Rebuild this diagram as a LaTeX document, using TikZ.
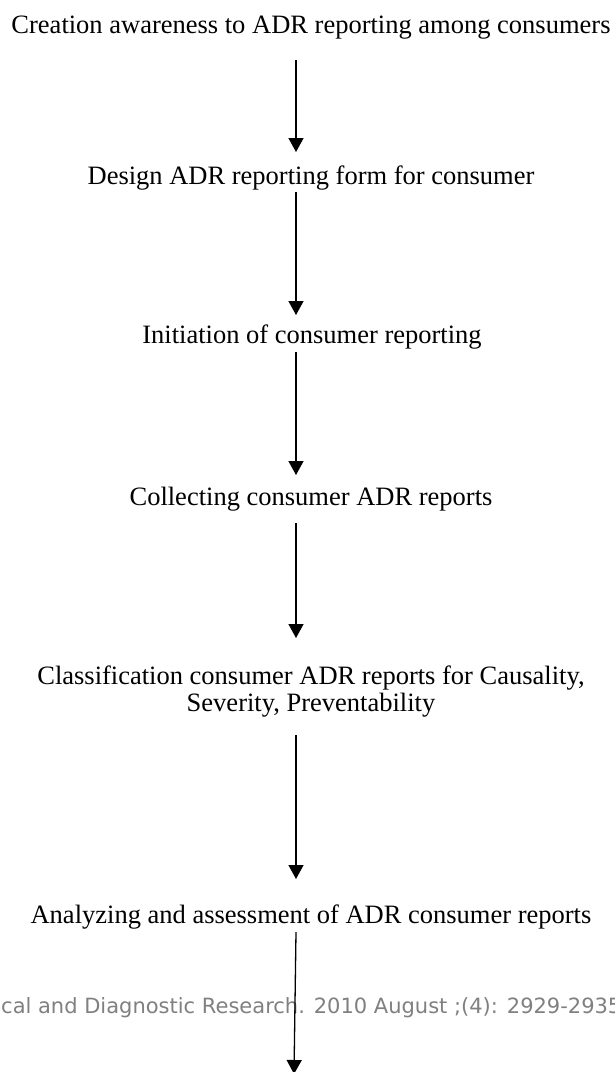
\documentclass[tikz,border=0pt]{standalone}
\usepackage{fontspec}
\setmainfont{Liberation Serif}
\newfontfamily\markfont{DejaVu Sans}
\usetikzlibrary{arrows.meta,calc}

\tikzset{
  stage/.style={anchor=base, inner sep=0pt, align=center,
    font=\fontsize{26.5}{27}\selectfont},
  flow/.style={line width=1.3pt, -{Triangle[length=14pt,width=15pt]}},
}

\begin{document}
\begin{tikzpicture}[x=1pt, y=-1pt]
    \useasboundingbox[fill=white] (0,0) rectangle (615,1072);

    % Stages (two-line node sits on its last line)
    \node[stage] (t1) at (311,33) {Creation awareness to ADR reporting among consumers};
    \node[stage] (t2) at (311,184) {Design ADR reporting form for consumer};
    \node[stage] (t3) at (312,343) {Initiation of consumer reporting};
    \node[stage] (t4) at (311,505) {Collecting consumer ADR reports};
    \node[stage] (t5) at (311,711) {Classification consumer ADR reports for Causality,\\ Severity, Preventability};
    \node[stage] (t6) at (311,923) {Analyzing and assessment of ADR consumer reports};

    % Watermark line, cut at both sides
    \node[anchor=base west, inner sep=0pt, text=black!50,
      font=\markfont\fontsize{21}{24}\selectfont] (mark) at (1,1013)
      {cal and Diagnostic Research. 2010 August ;(4): 2929-2935};

    % Arrows
    \coordinate (ax) at (296,0);
    \coordinate (bottom) at (294,1074);
    \draw[flow] ([yshift=-27pt]t1.base -| ax) -- ([yshift=32pt]t2.base -| ax);
    \draw[flow] ([yshift=-8pt]t2.base -| ax) -- ([yshift=28pt]t3.base -| ax);
    \draw[flow] ([yshift=-9pt]t3.base -| ax) -- ([yshift=30pt]t4.base -| ax);
    \draw[flow] ([yshift=-18pt]t4.base -| ax) -- ([yshift=73pt]t5.base -| ax);
    \draw[flow] ([yshift=-24pt]t5.base -| ax) -- ([yshift=44pt]t6.base -| ax);
    \draw[flow] ([yshift=-9pt]t6.base -| ax) -- (bottom);

\end{tikzpicture}
\end{document}
